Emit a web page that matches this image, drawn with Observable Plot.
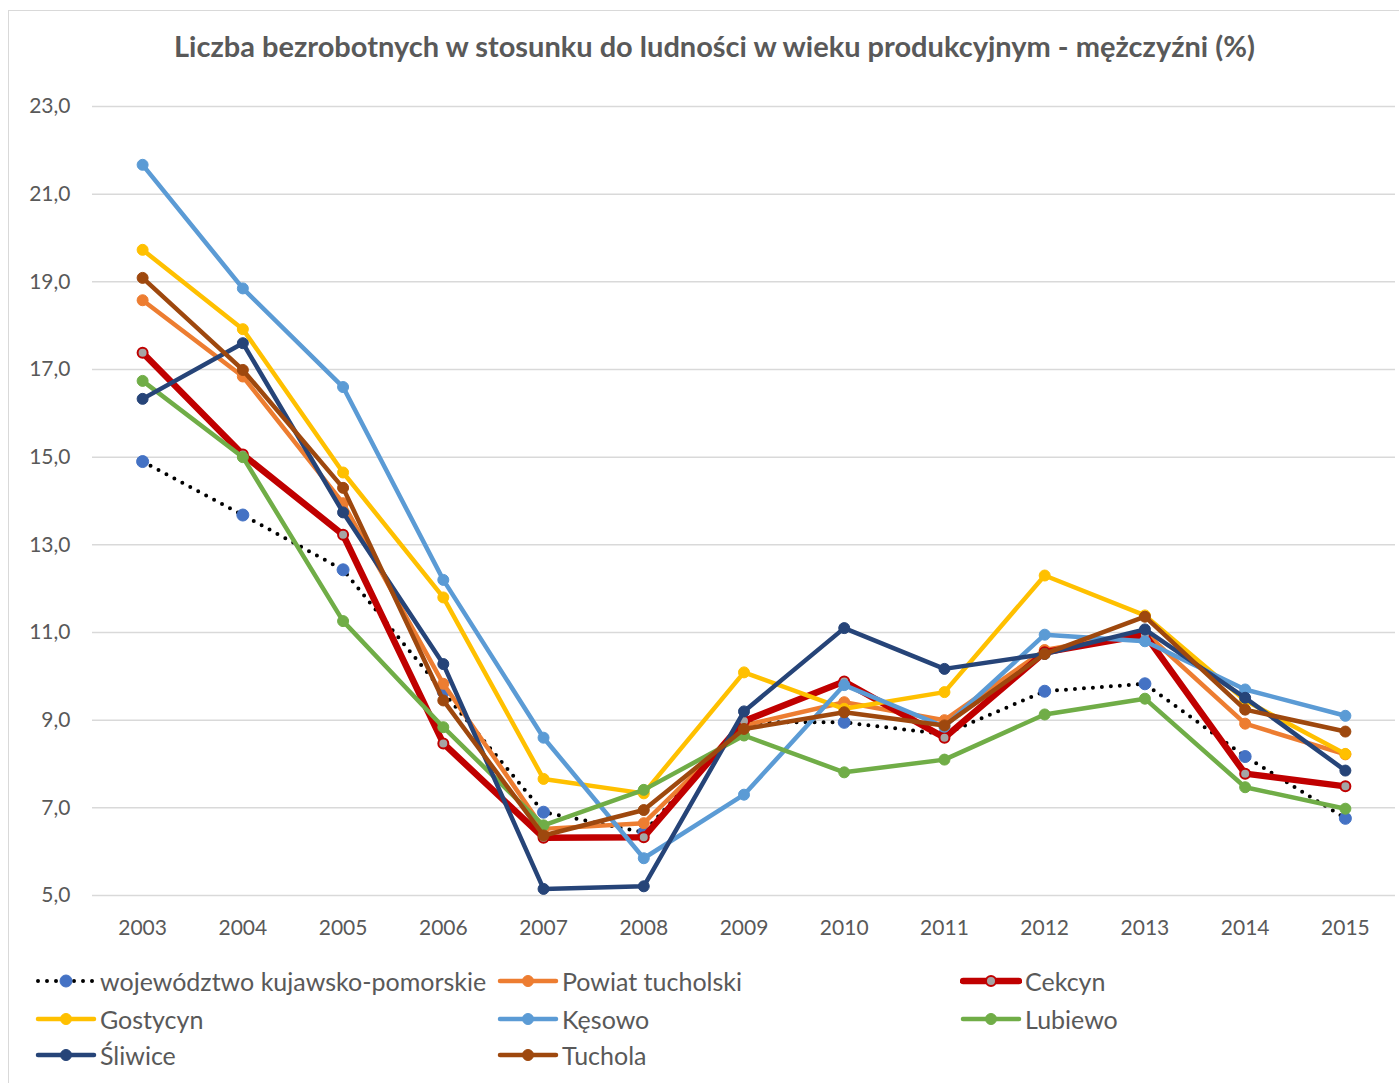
<!DOCTYPE html>
<html><head><meta charset="utf-8">
<script src="https://cdn.jsdelivr.net/npm/d3@7"></script>
<script src="https://cdn.jsdelivr.net/npm/@observablehq/plot@0.6"></script>
<style>
body{margin:0;background:#fff;font-family:Lato,"Open Sans",sans-serif;}
#wrap{position:relative;width:1399px;height:1083px;overflow:hidden;}
#frame{position:absolute;left:8px;top:10px;width:1400px;height:1080px;border:1.5px solid #d9d9d9;box-sizing:border-box;}
#title{position:absolute;top:28px;left:0;width:1429px;text-align:center;font-weight:bold;font-size:29px;color:#595959;}
#chart{position:absolute;top:80px;left:0;}
#legend{position:absolute;top:962px;left:0;width:1399px;font-size:25px;color:#595959;}
.li{position:absolute;display:flex;align-items:center;height:38px;}
.li svg{margin-right:3px;}
</style></head>
<body>
<div id="wrap">
<div id="frame"></div>
<div id="title">Liczba bezrobotnych w stosunku do ludności w wieku produkcyjnym - mężczyźni (%)</div>
<div id="chart"></div>
<div id="legend"></div>
</div>
<script>
const years = [2003,2004,2005,2006,2007,2008,2009,2010,2011,2012,2013,2014,2015];
const yTicks = [5,7,9,11,13,15,17,19,21,23];
const seriesNames = ["województwo kujawsko-pomorskie","Powiat tucholski","Cekcyn","Gostycyn","Kęsowo","Lubiewo","Śliwice","Tuchola"];
const wojewodztwo = [14.9,13.68,12.43,9.64,6.9,6.44,8.95,8.95,8.68,9.66,9.83,8.17,6.76];
const powiat = [18.58,16.84,13.95,9.83,6.52,6.65,8.88,9.41,9.0,10.6,11.0,8.92,8.22];
const cekcyn = [17.38,15.06,13.23,8.47,6.32,6.33,8.98,9.88,8.6,10.55,10.95,7.78,7.49];
const gostycyn = [19.73,17.92,14.65,11.8,7.66,7.33,10.09,9.26,9.64,12.3,11.39,9.45,8.23];
const kesowo = [21.67,18.85,16.6,12.2,8.6,5.85,7.3,9.8,8.85,10.95,10.8,9.7,9.1];
const lubiewo = [16.74,15.0,11.26,8.84,6.6,7.41,8.65,7.81,8.1,9.13,9.49,7.47,6.98];
const sliwice = [16.33,17.6,13.74,10.28,5.15,5.21,9.2,11.1,10.17,10.51,11.07,9.51,7.85];
const tuchola = [19.09,16.99,14.3,9.45,6.37,6.95,8.8,9.18,8.88,10.51,11.36,9.24,8.74];

const valuesList = [wojewodztwo,powiat,cekcyn,gostycyn,kesowo,lubiewo,sliwice,tuchola];
const styles = [
  {line:"#000000", fill:"#4472C4", stroke:"#4472C4", w:4, dash:"0 9", r:6},
  {line:"#ED7D31", fill:"#ED7D31", stroke:"#ED7D31", w:4.5, r:5.5},
  {line:"#C00000", fill:"#A5A5A5", stroke:"#C00000", w:6.5, r:5},
  {line:"#FFC000", fill:"#FFC000", stroke:"#FFC000", w:4.5, r:5.5},
  {line:"#5B9BD5", fill:"#5B9BD5", stroke:"#5B9BD5", w:4.5, r:5.5},
  {line:"#70AD47", fill:"#70AD47", stroke:"#70AD47", w:4.5, r:5.5},
  {line:"#264478", fill:"#264478", stroke:"#264478", w:4.5, r:5.5},
  {line:"#9E480E", fill:"#9E480E", stroke:"#9E480E", w:4.5, r:5.5}
];

const marks = [
  Plot.ruleY(yTicks, {stroke:"#d9d9d9", strokeWidth:1.5}),
  Plot.axisY({ticks: yTicks, label:null, tickSize:0, tickPadding:22, tickFormat: d => d.toFixed(1).replace(".", ","), fontSize:21, fill:"#595959"}),
  Plot.axisX({ticks: years, label:null, tickSize:0, tickPadding:25, tickFormat: d => String(d), fontSize:21, fill:"#595959"})
];
valuesList.forEach((vals, i) => {
  const data = years.map((yr, j) => ({year: yr, value: vals[j]}));
  const s = styles[i];
  marks.push(Plot.line(data, {x:"year", y:"value", stroke:s.line, strokeWidth:s.w,
    strokeDasharray: s.dash || null, strokeLinecap: "round", strokeLinejoin:"round"}));
  marks.push(Plot.dot(data, {x:"year", y:"value", r:s.r, fill:s.fill, stroke:s.stroke, strokeWidth: i===2 ? 2 : 1}));
});

const chart = Plot.plot({
  width:1399, height:870,
  marginLeft:92, marginRight:4, marginTop:26, marginBottom:55,
  x:{domain:[2002.5,2015.5], axis:null, label:null},
  y:{domain:[5,23], axis:null, label:null},
  style:{fontFamily:"Lato, 'Open Sans', sans-serif", background:"transparent", overflow:"visible"},
  marks
});
document.getElementById("chart").appendChild(chart);

// legend
const legendPos = [[35,0],[497,0],[960,0],[35,38],[497,38],[960,38],[35,74],[497,74]];
const leg = document.getElementById("legend");
seriesNames.forEach((name, i) => {
  const s = styles[i];
  const [lx, ly] = legendPos[i];
  const div = document.createElement("div");
  div.className = "li";
  div.style.left = lx + "px";
  div.style.top = ly + "px";
  const dash = s.dash ? `stroke-dasharray="0 9"` : "";
  div.innerHTML = `<svg width="62" height="20"><line x1="3" y1="10" x2="59" y2="10" stroke="${s.line}" stroke-width="${s.w}" stroke-linecap="round" ${dash}/><circle cx="31" cy="10" r="${s.r}" fill="${s.fill}" stroke="${s.stroke}" stroke-width="${i===2?2:1}"/></svg><span>${name}</span>`;
  leg.appendChild(div);
});
</script>
</body></html>
